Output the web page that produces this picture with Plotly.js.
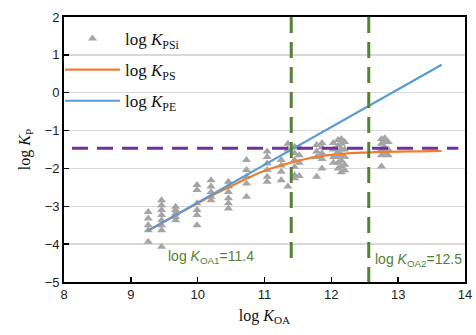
<!DOCTYPE html>
<html><head><meta charset="utf-8">
<script src="https://cdn.plot.ly/plotly-3.0.1.min.js"></script>
<style>html,body{margin:0;padding:0;background:#fff}</style>
</head><body><div id="chart" style="width:476px;height:335px"></div>
<script>
// Scatter data: log KOA vs log KPSi (grey triangles)
const psiKoa = [
 9.26,9.26,9.26,9.26,9.26,
 9.46,9.46,9.46,9.46,9.46,9.46,9.46,9.46,
 9.67,9.67,9.67,9.67,9.67,
 9.99,9.99,9.99,9.99,9.99,9.99,
 10.2,10.2,10.2,10.2,10.2,
 10.46,10.46,10.46,10.46,10.46,10.46,
 10.73,10.73,10.73,10.73,10.73,
 11.04,11.04,11.04,11.04,11.04,11.04,
 11.25,11.25,11.25,11.25,
 11.35,11.35,11.35,
 11.45,11.45,11.45,11.45,11.45,11.45,
 11.52,11.52,11.52,11.52,
 11.78,11.78,11.78,11.78,
 11.86,11.86,11.86,11.86,11.86,
 12.03,12.03,12.03,12.03,
 12.1,12.1,12.1,12.1,12.1,12.1,
 12.15,12.15,12.15,12.15,12.15,12.15,12.15,
 12.2,12.2,12.2,12.2,12.2,
 12.75,12.75,12.75,12.75,12.75,
 12.8,12.8,12.8,12.8,
 12.85,12.85,12.85
];
const psiKp = [
 -3.15,-3.32,-3.50,-3.63,-3.94,
 -2.84,-2.97,-3.10,-3.23,-3.37,-3.50,-3.63,-4.07,
 -3.01,-3.10,-3.19,-3.28,-3.37,
 -2.44,-2.57,-2.92,-3.10,-3.23,-3.50,
 -2.31,-2.48,-2.62,-2.75,-2.84,
 -2.35,-2.48,-2.62,-2.79,-2.92,-3.06,
 -1.78,-2.04,-2.22,-2.40,-2.75,
 -1.55,-1.70,-1.87,-2.04,-2.22,-2.35,
 -1.78,-1.92,-2.09,-2.31,
 -1.35,-1.50,-2.48,
 -1.43,-1.60,-1.78,-1.96,-2.18,-2.26,
 -1.45,-1.65,-1.85,-2.20,
 -1.38,-1.55,-1.70,-2.22,
 -1.33,-1.45,-1.60,-1.75,-2.00,
 -1.33,-1.50,-1.70,-1.85,
 -1.25,-1.40,-1.55,-1.70,-1.85,-2.00,
 -1.22,-1.35,-1.50,-1.65,-1.80,-1.95,-2.10,
 -1.30,-1.50,-1.70,-1.90,-2.05,
 -1.22,-1.35,-1.50,-1.65,-1.95,
 -1.20,-1.30,-1.45,-1.60,
 -1.30,-1.50,-1.65
];
// log KPS curve (orange)
const psKoa = [9.25,9.5,9.75,10,10.25,10.5,10.75,11,11.25,11.5,11.75,12,12.25,12.5,12.75,13,13.25,13.5,13.65];
const psKp  = [-3.65,-3.41,-3.16,-2.92,-2.68,-2.47,-2.25,-2.06,-1.92,-1.80,-1.70,-1.64,-1.60,-1.58,-1.565,-1.555,-1.55,-1.545,-1.54];
// log KPE line (blue)
const peKoa = [9.25, 13.65];
const peKp  = [-3.65, 0.74];
// reference lines
const plateauKoa = [8.12, 13.9];
const plateauKp  = [-1.47, -1.47];
const koa1 = 11.4, koa2 = 12.56;
const koa1Y = [2, -4.6];
const koa2Y = [2, -5];
const xTicks = [8,9,10,11,12,13,14];
const yTicks = [2,1,0,-1,-2,-3,-4,-5];

const green = '#548235';
const dash = '16px,9px';
const traces = [
 {x: psiKoa, y: psiKp, mode:'markers', type:'scatter', name:'log <i>K</i><sub>PSi</sub>', legendgroup:'a',
  marker:{symbol:'triangle-up', size:8, color:'#a5a5a5'}},
 {x: psKoa, y: psKp, mode:'lines', type:'scatter', name:'log <i>K</i><sub>PS</sub>', legendgroup:'b',
  line:{color:'#ed7d31', width:2.2, shape:'spline'}},
 {x: peKoa, y: peKp, mode:'lines', type:'scatter', name:'log <i>K</i><sub>PE</sub>', legendgroup:'c',
  line:{color:'#5b9bd5', width:2.2}},
 {x: plateauKoa, y: plateauKp, mode:'lines', type:'scatter', showlegend:false,
  line:{color:'#7030a0', width:3, dash:dash}},
 {x: [koa1, koa1], y: koa1Y, mode:'lines', type:'scatter', showlegend:false,
  line:{color:green, width:3, dash:dash}},
 {x: [koa2, koa2], y: koa2Y, mode:'lines', type:'scatter', showlegend:false,
  line:{color:green, width:3, dash:dash}}
];
const tickFont = {family:'Liberation Sans, Arial, sans-serif', size:13, color:'#222'};
const layout = {
 width:476, height:335,
 margin:{l:64, r:11, t:17, b:53},
 paper_bgcolor:'#fff', plot_bgcolor:'#fff',
 showlegend:true,
 legend:{x:-0.01, y:0.985, xanchor:'left', yanchor:'top', bgcolor:'rgba(0,0,0,0)',
  font:{family:'Liberation Serif, Times New Roman, serif', size:17, color:'#111'},
  itemwidth:55, traceorder:'grouped', tracegroupgap:6},
 xaxis:{range:[8,14], tickvals:xTicks, ticks:'inside', ticklen:5, tickcolor:'#000', tickwidth:1.5,
  showgrid:false, zeroline:false, showline:true, linecolor:'#000', linewidth:1.8, mirror:true,
  tickfont:tickFont,
  title:{text:'log <i>K</i><sub>OA</sub>', font:{family:'Liberation Serif, Times New Roman, serif', size:16, color:'#111'}, standoff:8}},
 yaxis:{range:[-5,2], tickvals:yTicks, ticks:'inside', ticklen:5, tickcolor:'#000', tickwidth:1.5,
  showgrid:true, gridcolor:'#d9d9d9', gridwidth:1.5, zeroline:false, showline:true, linecolor:'#000', linewidth:1.8, mirror:true,
  tickfont:tickFont,
  title:{text:'log <i>K</i><sub>P</sub>', font:{family:'Liberation Serif, Times New Roman, serif', size:16, color:'#111'}, standoff:10}},
 annotations:[
  {x:9.52, y:-4.33, xref:'x', yref:'y', xanchor:'left', yanchor:'middle', showarrow:false,
   text:'log <i>K</i><sub>OA1</sub>=11.4', font:{family:'Liberation Sans, Arial, sans-serif', size:14, color:green}},
  {x:12.62, y:-4.43, xref:'x', yref:'y', xanchor:'left', yanchor:'middle', showarrow:false,
   text:'log <i>K</i><sub>OA2</sub>=12.5', font:{family:'Liberation Sans, Arial, sans-serif', size:14, color:green}}
 ]
};
Plotly.newPlot('chart', traces, layout, {displayModeBar:false, staticPlot:true});
</script></body></html>
